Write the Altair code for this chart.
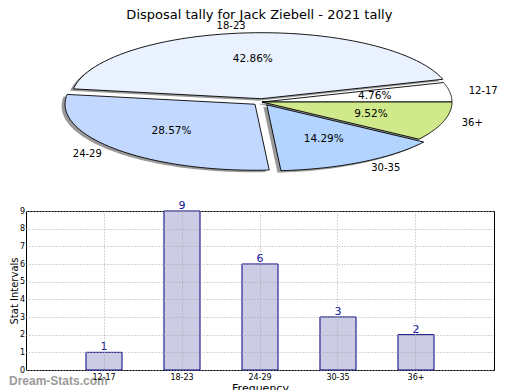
import altair as alt
import pandas as pd

title_text = "Disposal tally for Jack Ziebell - 2021 tally"
cats = ["12-17", "18-23", "24-29", "30-35", "36+"]
counts = [1, 9, 6, 3, 2]
pie_colors = ["#ffffff", "#eaf2ff", "#c3d8ff", "#b3d4ff", "#d0ea8b"]
explode = [0, 0.05, 0.05, 0.05, 0]
y_ticks = [0, 1, 2, 3, 4, 5, 6, 7, 8, 9]
watermark = ["Dream-Stats.com"]

FONT = "DejaVu Sans"

df = pd.DataFrame({"cat": cats, "count": counts, "explode": explode,
                   "idx": list(range(len(cats)))})

# ---------------- Pie (elliptical, exploded) ----------------
xs = alt.Scale(domain=[-1.2421, 1.2211], nice=False, zero=False)
ys = alt.Scale(domain=[-1.2424, 1.1818], nice=False, zero=False)

base = (
    alt.Chart(df)
    .transform_joinaggregate(total="sum(count)")
    .transform_window(cum="sum(count)", sort=[alt.SortField("idx")], frame=[None, 0])
    .transform_calculate(a0="2*PI*(datum.cum-datum.count)/datum.total")
    .transform_calculate(a1="2*PI*datum.cum/datum.total")
    .transform_calculate(mid="(datum.a0+datum.a1)/2")
    .transform_calculate(ox="datum.explode*cos(datum.mid)")
    .transform_calculate(oy="datum.explode*sin(datum.mid)")
)

poly = (
    base.transform_calculate(pts="sequence(0, 62)")
    .transform_flatten(["pts"])
    .transform_calculate(t="datum.a0 + (datum.a1-datum.a0)*(datum.pts-1)/60")
    .transform_calculate(px="datum.ox + (datum.pts==0 ? 0 : cos(datum.t))")
    .transform_calculate(py="datum.oy + (datum.pts==0 ? 0 : sin(datum.t))")
    .transform_calculate(sx="datum.px - 0.018")
    .transform_calculate(sy="datum.py - 0.03")
)

shadow = poly.mark_line(interpolate="linear-closed", stroke="transparent").encode(
    x=alt.X("sx:Q", scale=xs, axis=None),
    y=alt.Y("sy:Q", scale=ys, axis=None),
    order="pts:Q",
    detail="cat:N",
    fill=alt.value("#333333"),
    fillOpacity=alt.value(0.5),
)

wedges = poly.mark_line(interpolate="linear-closed", stroke="black", strokeWidth=0.9).encode(
    x=alt.X("px:Q", scale=xs, axis=None),
    y=alt.Y("py:Q", scale=ys, axis=None),
    order="pts:Q",
    detail="cat:N",
    fill=alt.Fill("cat:N", scale=alt.Scale(domain=cats, range=pie_colors), legend=None),
)

lab = (
    base.transform_calculate(lx="datum.ox + 1.1*cos(datum.mid)")
    .transform_calculate(ly="datum.oy + 1.1*sin(datum.mid)")
    .transform_calculate(qx="datum.ox + 0.6*cos(datum.mid)")
    .transform_calculate(qy="datum.oy + 0.6*sin(datum.mid)")
    .transform_calculate(pct="format(100*datum.count/datum.total, '.2f') + '%'")
)

lab_left = lab.transform_filter("cos(datum.mid) >= 0").mark_text(
    align="left", baseline="middle", font=FONT, fontSize=10, color="black"
).encode(x=alt.X("lx:Q", scale=xs, axis=None), y=alt.Y("ly:Q", scale=ys, axis=None), text="cat:N")

lab_right = lab.transform_filter("cos(datum.mid) < 0").mark_text(
    align="right", baseline="middle", font=FONT, fontSize=10, color="black"
).encode(x=alt.X("lx:Q", scale=xs, axis=None), y=alt.Y("ly:Q", scale=ys, axis=None), text="cat:N")

pct = lab.mark_text(align="center", baseline="middle", font=FONT, fontSize=10.5, color="black").encode(
    x=alt.X("qx:Q", scale=xs, axis=None), y=alt.Y("qy:Q", scale=ys, axis=None), text="pct:N"
)

pie = alt.layer(shadow, wedges, lab_left, lab_right, pct).properties(
    width=468, height=160, view=alt.ViewBackground(stroke="transparent")
)

# ---------------- Bar chart ----------------
bdf = pd.DataFrame({"cat": cats, "count": counts})

xb = alt.X(
    "cat:N", sort=cats,
    scale=alt.Scale(paddingInner=0.538, paddingOuter=0.769),
    axis=alt.Axis(title="Frequency", labelAngle=0, labelFontSize=8, labelPadding=3,
                  ticks=False, domain=False, grid=True, gridDash=[1, 2],
                  gridColor="#aaaaaa", titleFontSize=11, titlePadding=1, zindex=1),
)
yb = alt.Y(
    "count:Q",
    scale=alt.Scale(domain=[0, 9], nice=False),
    axis=alt.Axis(title="Stat Intervals", values=y_ticks, labelFontSize=8, labelPadding=1.5,
                  labelOverlap=False, tickCount=10,
                  ticks=False, domain=False, grid=True, gridDash=[1, 2],
                  gridColor="#aaaaaa", titleFontSize=10, titlePadding=0, zindex=1),
)

bars = alt.Chart(bdf).mark_bar(fill="#ccccE5", stroke="#000080", strokeWidth=1).encode(x=xb, y=yb)

vals = alt.Chart(bdf).mark_text(baseline="bottom", dy=0, color="#10109a", font=FONT, fontSize=11).encode(
    x=xb, y=yb, text="count:Q"
)

wm = alt.Chart(pd.DataFrame({"t": watermark})).mark_text(
    align="left", baseline="middle", font="Liberation Sans", fontSize=12,
    fontWeight="bold", color="#9a9a9a"
).encode(x=alt.value(-17), y=alt.value(170), text="t:N")

bar = alt.layer(bars, vals, wm).properties(width=468, height=159)

chart = (
    alt.vconcat(pie, bar, spacing=27, bounds="flush")
    .properties(
        title=alt.Title(title_text, fontSize=13, font=FONT, fontWeight="normal",
                        anchor="middle", offset=-1, dx=6, color="black"),
        padding=0,
    )
    .configure_view(stroke="black", strokeWidth=1)
    .configure_axis(labelFont=FONT, titleFont=FONT, titleFontWeight="normal",
                    labelColor="black", titleColor="black")
)

chart.save("out.html", embed_options={"renderer": "svg", "actions": False})
